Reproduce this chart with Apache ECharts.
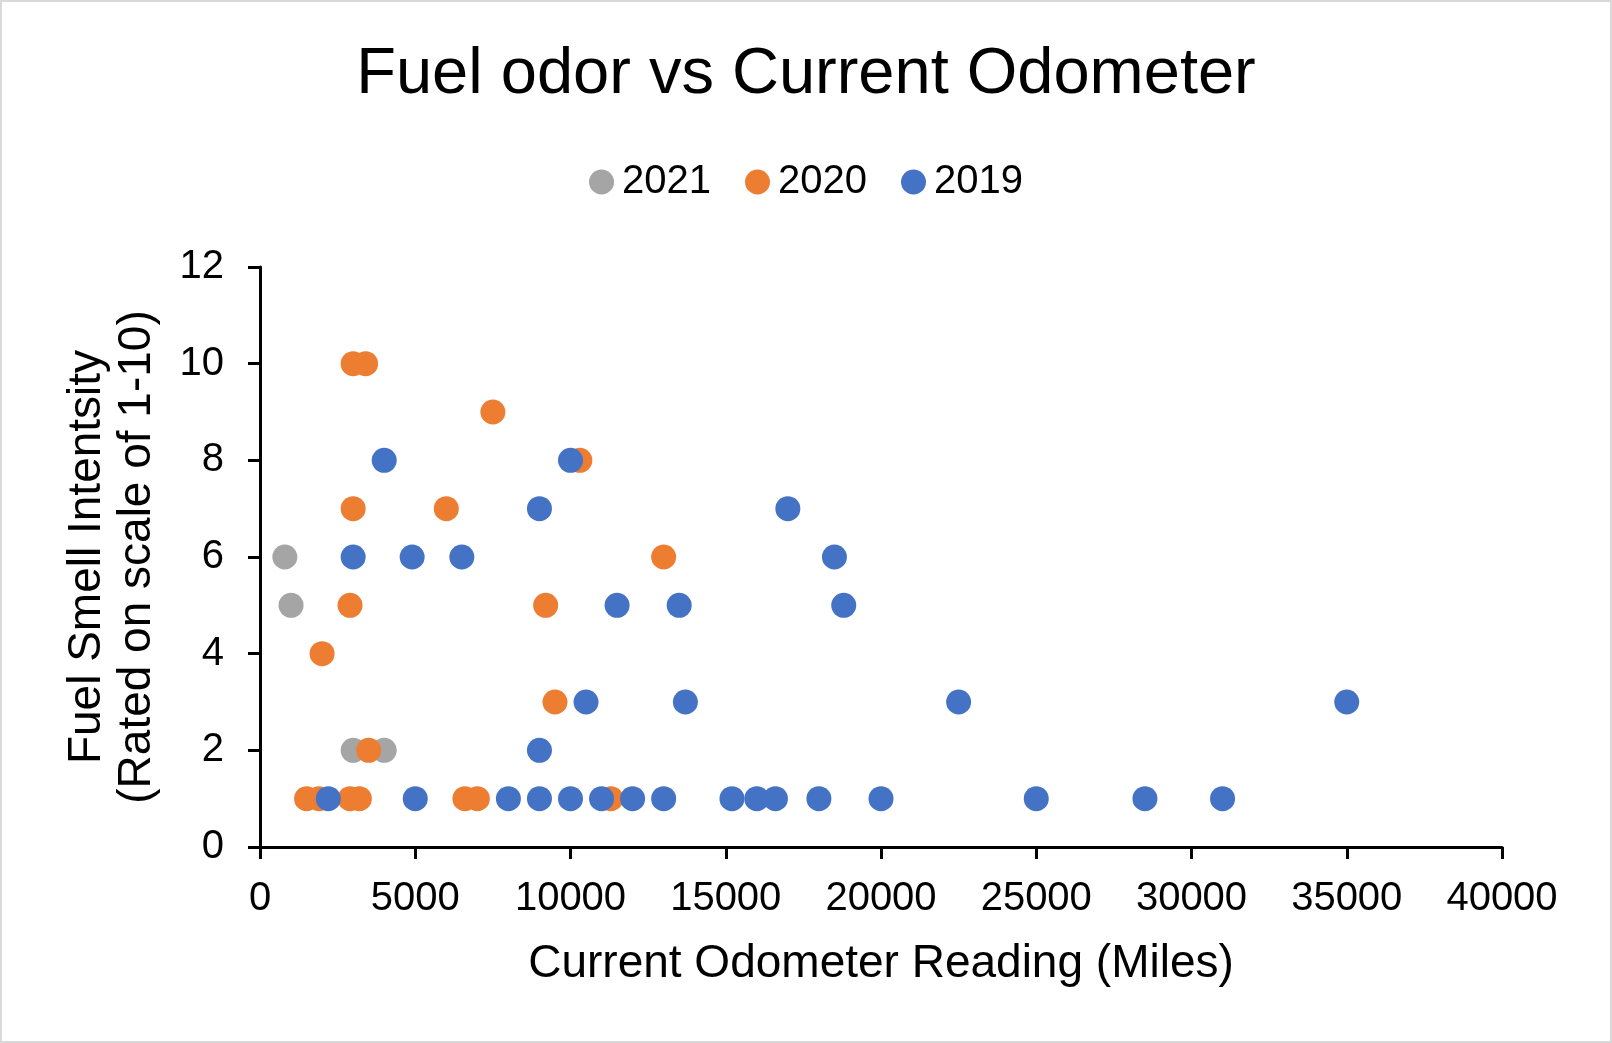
<!DOCTYPE html>
<html>
<head>
<meta charset="utf-8">
<title>Fuel odor vs Current Odometer</title>
<script src="https://cdn.jsdelivr.net/npm/echarts@6.0.0/dist/echarts.min.js"></script>
<style>
  html, body { margin: 0; padding: 0; background: #ffffff; }
  #frame { width: 1612px; height: 1043px; box-sizing: border-box; border: 2px solid #d9d9d9; background: #ffffff; }
  #chart { width: 1608px; height: 1039px; }
</style>
</head>
<body>
<div id="frame"><div id="chart"></div></div>
<script>
// odometer reading (miles) and smell rating, one pair of arrays per model year
const odo2021 = [800, 1000, 3000, 4000];
const smell2021 = [6, 5, 2, 2];

const odo2020 = [3000, 3400, 7500, 10300, 3000, 6000, 13000, 2900, 9200, 2000, 9500, 3500, 1500, 1900, 2900, 3200, 6600, 7000, 11300];
const smell2020 = [10, 10, 9, 8, 7, 7, 6, 5, 5, 4, 3, 2, 1, 1, 1, 1, 1, 1, 1];

const odo2019 = [4000, 10000, 9000, 17000, 3000, 4900, 6500, 18500, 11500, 13500, 18800, 10500, 13700, 22500, 35000, 9000,
  2200, 5000, 8000, 9000, 10000, 11000, 12000, 13000, 15200, 16000, 16600, 18000, 20000, 25000, 28500, 31000];
const smell2019 = [8, 8, 7, 7, 6, 6, 6, 6, 5, 5, 5, 3, 3, 3, 3, 2,
  1, 1, 1, 1, 1, 1, 1, 1, 1, 1, 1, 1, 1, 1, 1, 1];

const seriesNames = ['2021', '2020', '2019'];
const seriesColors = ['#a5a5a5', '#ed7d31', '#4472c4'];

const font = '"Liberation Sans", Arial, sans-serif';

function pairs(xs, ys) {
  return xs.map((x, i) => [x, ys[i]]);
}

const chart = echarts.init(document.getElementById('chart'));
chart.setOption({
  animation: false,
  color: seriesColors,
  textStyle: { fontFamily: font, color: '#000' },
  title: {
    text: 'Fuel odor vs Current Odometer',
    left: 'center',
    top: 36,
    textStyle: { fontFamily: font, fontSize: 65, fontWeight: 'normal', color: '#000' }
  },
  legend: {
    top: 155,
    left: 'center',
    icon: 'circle',
    itemWidth: 25,
    itemHeight: 25,
    itemGap: 34,
    data: seriesNames,
    textStyle: { fontFamily: font, fontSize: 40, color: '#000', padding: [0, 0, 0, 3] }
  },
  grid: { left: 258, right: 108, top: 265, bottom: 194 },
  xAxis: {
    type: 'value',
    min: 0,
    max: 40000,
    interval: 5000,
    name: 'Current Odometer Reading (Miles)',
    nameLocation: 'middle',
    nameGap: 94,
    nameTextStyle: { fontFamily: font, fontSize: 46, color: '#000' },
    splitLine: { show: false },
    axisLine: { show: true, lineStyle: { color: '#000', width: 3 } },
    axisTick: { show: true, length: 12, lineStyle: { color: '#000', width: 3 } },
    axisLabel: { margin: 32, fontFamily: font, fontSize: 40, color: '#000', formatter: (value) => String(value) }
  },
  yAxis: {
    type: 'value',
    min: 0,
    max: 12,
    interval: 2,
    name: 'Fuel Smell Intentsity\n(Rated on scale of 1-10)',
    nameLocation: 'middle',
    nameRotate: 90,
    nameGap: 98,
    nameTextStyle: { fontFamily: font, fontSize: 46, lineHeight: 50, color: '#000' },
    splitLine: { show: false },
    axisLine: { show: true, lineStyle: { color: '#000', width: 3 } },
    axisTick: { show: true, length: 12, lineStyle: { color: '#000', width: 3 } },
    axisLabel: { margin: 36, fontFamily: font, fontSize: 40, color: '#000' }
  },
  series: [
    { name: '2021', type: 'scatter', symbolSize: 25, itemStyle: { opacity: 1 }, data: pairs(odo2021, smell2021) },
    { name: '2020', type: 'scatter', symbolSize: 25, itemStyle: { opacity: 1 }, data: pairs(odo2020, smell2020) },
    { name: '2019', type: 'scatter', symbolSize: 25, itemStyle: { opacity: 1 }, data: pairs(odo2019, smell2019) }
  ]
});
</script>
</body>
</html>
